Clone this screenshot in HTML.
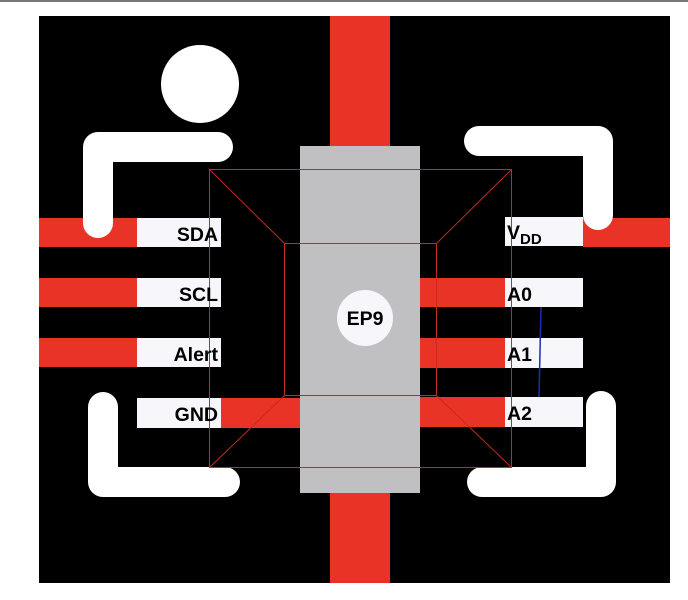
<!DOCTYPE html>
<html><head><meta charset="utf-8"><style>
html,body{margin:0;padding:0;background:#fff;width:688px;height:600px;overflow:hidden}
text{font-family:"Liberation Sans",Arial,sans-serif;font-weight:bold;font-size:19.5px;fill:#000}
</style></head><body>
<svg width="688" height="600" viewBox="0 0 688 600" xmlns="http://www.w3.org/2000/svg">
<rect x="0" y="0" width="688" height="2" fill="#777"/>
<rect x="39" y="16" width="631" height="567" fill="#000"/>
<rect x="330" y="16" width="60" height="567" fill="#e83326"/>
<!-- left pads -->
<rect x="39" y="218" width="98" height="29" fill="#e83326"/>
<rect x="39" y="278" width="98" height="29" fill="#e83326"/>
<rect x="39" y="338" width="98" height="29" fill="#e83326"/>
<rect x="583" y="218" width="87" height="29" fill="#e83326"/>
<!-- white silkscreen -->
<circle cx="200" cy="84" r="39" fill="#fff"/>
<path d="M98 223 L98 147 L218 147" stroke="#fff" stroke-width="30" stroke-linecap="round" stroke-linejoin="round" fill="none"/>
<path d="M479 141 L598 141 L598 215" stroke="#fff" stroke-width="30" stroke-linecap="round" stroke-linejoin="round" fill="none"/>
<path d="M103 407 L103 482 L225 482" stroke="#fff" stroke-width="30" stroke-linecap="round" stroke-linejoin="round" fill="none"/>
<path d="M601 406 L601 482 L482 482" stroke="#fff" stroke-width="30" stroke-linecap="round" stroke-linejoin="round" fill="none"/>
<rect x="137" y="218" width="84" height="29" fill="#f6f6fb"/>
<rect x="137" y="278" width="84" height="29" fill="#f6f6fb"/>
<rect x="137" y="338" width="84" height="29" fill="#f6f6fb"/>
<rect x="137" y="398" width="84" height="30" fill="#f6f6fb"/>
<rect x="221" y="398" width="79" height="30" fill="#e83326"/>
<!-- gray EP -->
<rect x="300" y="146" width="120" height="347" fill="#c0bfc1"/>
<!-- right pads -->
<rect x="420" y="278" width="85" height="29" fill="#e83326"/>
<rect x="420" y="338" width="85" height="30" fill="#e83326"/>
<rect x="420" y="397" width="85" height="30" fill="#e83326"/>
<rect x="505" y="217" width="78" height="29" fill="#f6f6fb"/>
<rect x="505" y="278" width="78" height="29" fill="#f6f6fb"/>
<rect x="505" y="338" width="78" height="30" fill="#f6f6fb"/>
<rect x="505" y="397" width="78" height="30" fill="#f6f6fb"/>
<!-- outlines -->
<g stroke="#c8281e" stroke-width="1" fill="none">
<rect x="209.5" y="169.5" width="302" height="298"/>
<rect x="284.5" y="243.5" width="152" height="152"/>
<line x1="209.5" y1="169.5" x2="284.5" y2="243.5"/>
<line x1="511.5" y1="169.5" x2="436.5" y2="243.5"/>
<line x1="209.5" y1="467.5" x2="284.5" y2="395.5"/>
<line x1="511.5" y1="467.5" x2="436.5" y2="395.5"/>
</g>
<line x1="541" y1="307" x2="539" y2="397" stroke="#1a2fb0" stroke-width="1.5"/>
<circle cx="365" cy="318" r="28" fill="#f6f6fb"/>
<text x="365" y="325" text-anchor="middle">EP9</text>
<text x="218" y="241" text-anchor="end">SDA</text>
<text x="218" y="301" text-anchor="end">SCL</text>
<text x="218" y="361" text-anchor="end">Alert</text>
<text x="218" y="421" text-anchor="end">GND</text>
<text x="507" y="239">V<tspan font-size="15" dy="5">DD</tspan></text>
<text x="507" y="301">A0</text>
<text x="507" y="361">A1</text>
<text x="507" y="420">A2</text>
</svg>
</body></html>
